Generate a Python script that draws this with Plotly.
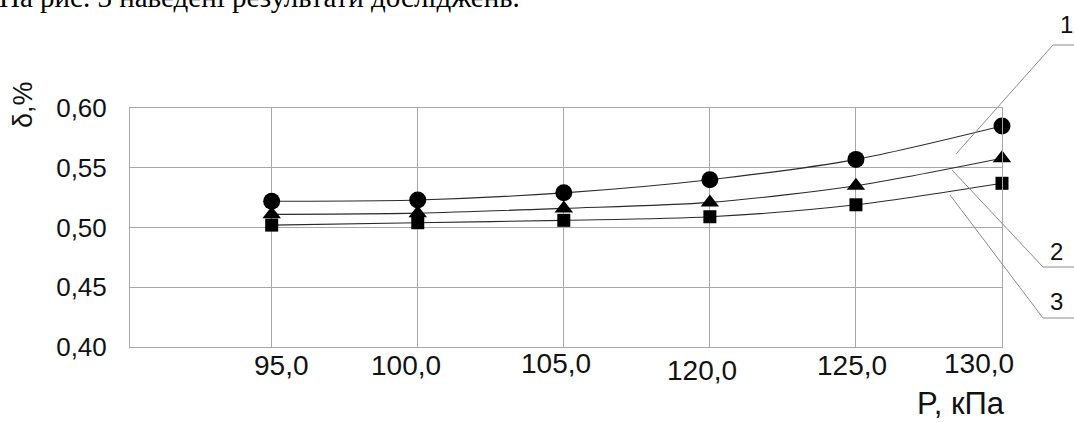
import plotly.graph_objects as go

# ---- data ----
pressure_labels = ["95,0", "100,0", "105,0", "120,0", "125,0", "130,0"]
curve1_circle = [0.522, 0.523, 0.529, 0.540, 0.557, 0.585]
curve2_triangle = [0.511, 0.512, 0.516, 0.521, 0.535, 0.558]
curve3_square = [0.502, 0.504, 0.506, 0.509, 0.519, 0.537]
y_tick_vals = [0.40, 0.45, 0.50, 0.55, 0.60]
y_tick_text = ["0,40", "0,45", "0,50", "0,55", "0,60"]
curve_ids = ["1", "2", "3"]

# ---- layout helpers (pixel geometry of the figure) ----
W, H = 1074, 423
L, R, T, B = 130, 72, 108, 76
PW, PH = W - L - R, H - T - B


def px(x):
    return (x - L) / PW


def py(y):
    return (H - B - y) / PH


FONT = "Liberation Sans"
fig = go.Figure()

xs = list(range(len(pressure_labels)))
series = [
    (curve1_circle, "circle", 17),
    (curve2_triangle, "triangle-up", 16),
    (curve3_square, "square", 13),
]
for vals, sym, size in series:
    fig.add_trace(go.Scatter(
        x=xs, y=vals, mode="lines+markers",
        line=dict(color="#2a2a2a", width=1.1, shape="spline", smoothing=0.8),
        marker=dict(symbol=sym, size=size, color="black"),
        cliponaxis=False, showlegend=False, hoverinfo="skip",
    ))

# x tick labels (scan-like slight misplacements)
label_dx = [10, -12, -8, -8, -4, -23]
label_cy = [365, 365, 363, 370, 365, 363]
for i, lab in enumerate(pressure_labels):
    fig.add_annotation(x=i, y=0, xref="x", yref="paper", text=lab, showarrow=False,
                       yanchor="middle", xanchor="center", xshift=label_dx[i],
                       yshift=-(label_cy[i] - (H - B)),
                       font=dict(family=FONT, size=28, color="#111"))

# axis titles
fig.add_annotation(x=px(961), y=py(403), xref="paper", yref="paper", text="P, кПа",
                   xanchor="center", yanchor="middle", showarrow=False,
                   font=dict(family=FONT, size=31, color="#111"))
fig.add_annotation(x=px(23), y=py(105), xref="paper", yref="paper", text="δ,%",
                   xanchor="center", yanchor="middle",
                   textangle=-90, showarrow=False,
                   font=dict(family=FONT, size=27, color="#111"))

# top caption, clipped by the page edge
fig.add_annotation(x=px(-3), y=py(-3), xref="paper", yref="paper", xanchor="left",
                   yanchor="middle",
                   text="На рис. 3 наведені результати досліджень.", showarrow=False,
                   font=dict(family="Liberation Serif", size=29, color="black"))

# callout leader lines and their numbers
leaders = [
    [(956, 154), (1053, 45), (1074, 45)],
    [(952, 170), (1043, 267), (1074, 267)],
    [(950, 195), (1043, 318), (1074, 318)],
]
label_pos = [(1066, 24), (1056, 251), (1056, 301)]
for pts, lab, (lx, ly) in zip(leaders, curve_ids, label_pos):
    for (x0, y0), (x1, y1) in zip(pts[:-1], pts[1:]):
        fig.add_shape(type="line", xref="paper", yref="paper",
                      x0=px(x0), y0=py(y0), x1=px(x1), y1=py(y1),
                      line=dict(color="#8a8a8a", width=1))
    fig.add_annotation(x=px(lx), y=py(ly), xref="paper", yref="paper", text=lab,
                       xanchor="center", yanchor="middle",
                       showarrow=False, font=dict(family=FONT, size=24, color="#111"))

fig.update_layout(
    width=W, height=H,
    margin=dict(l=L, r=R, t=T, b=B, pad=0),
    paper_bgcolor="white", plot_bgcolor="white",
    xaxis=dict(
        type="linear", range=[-0.97, 5], tickvals=xs, ticktext=pressure_labels,
        showticklabels=False, showgrid=True, gridcolor="#a8a8a8", gridwidth=1,
        zeroline=False, showline=True, linecolor="#a8a8a8", linewidth=1, mirror=True,
    ),
    yaxis=dict(
        range=[0.40, 0.60], tickvals=y_tick_vals, ticktext=y_tick_text,
        showgrid=True, gridcolor="#a8a8a8", gridwidth=1, zeroline=False,
        showline=True, linecolor="#a8a8a8", linewidth=1, mirror=True,
        ticks="", ticklabelstandoff=17,
        tickfont=dict(family=FONT, size=26, color="#111"),
    ),
)

fig.write_html("out.html", config={"displayModeBar": False},
               post_script="document.body.style.margin='0px';"
                           "document.body.style.overflow='hidden';")
